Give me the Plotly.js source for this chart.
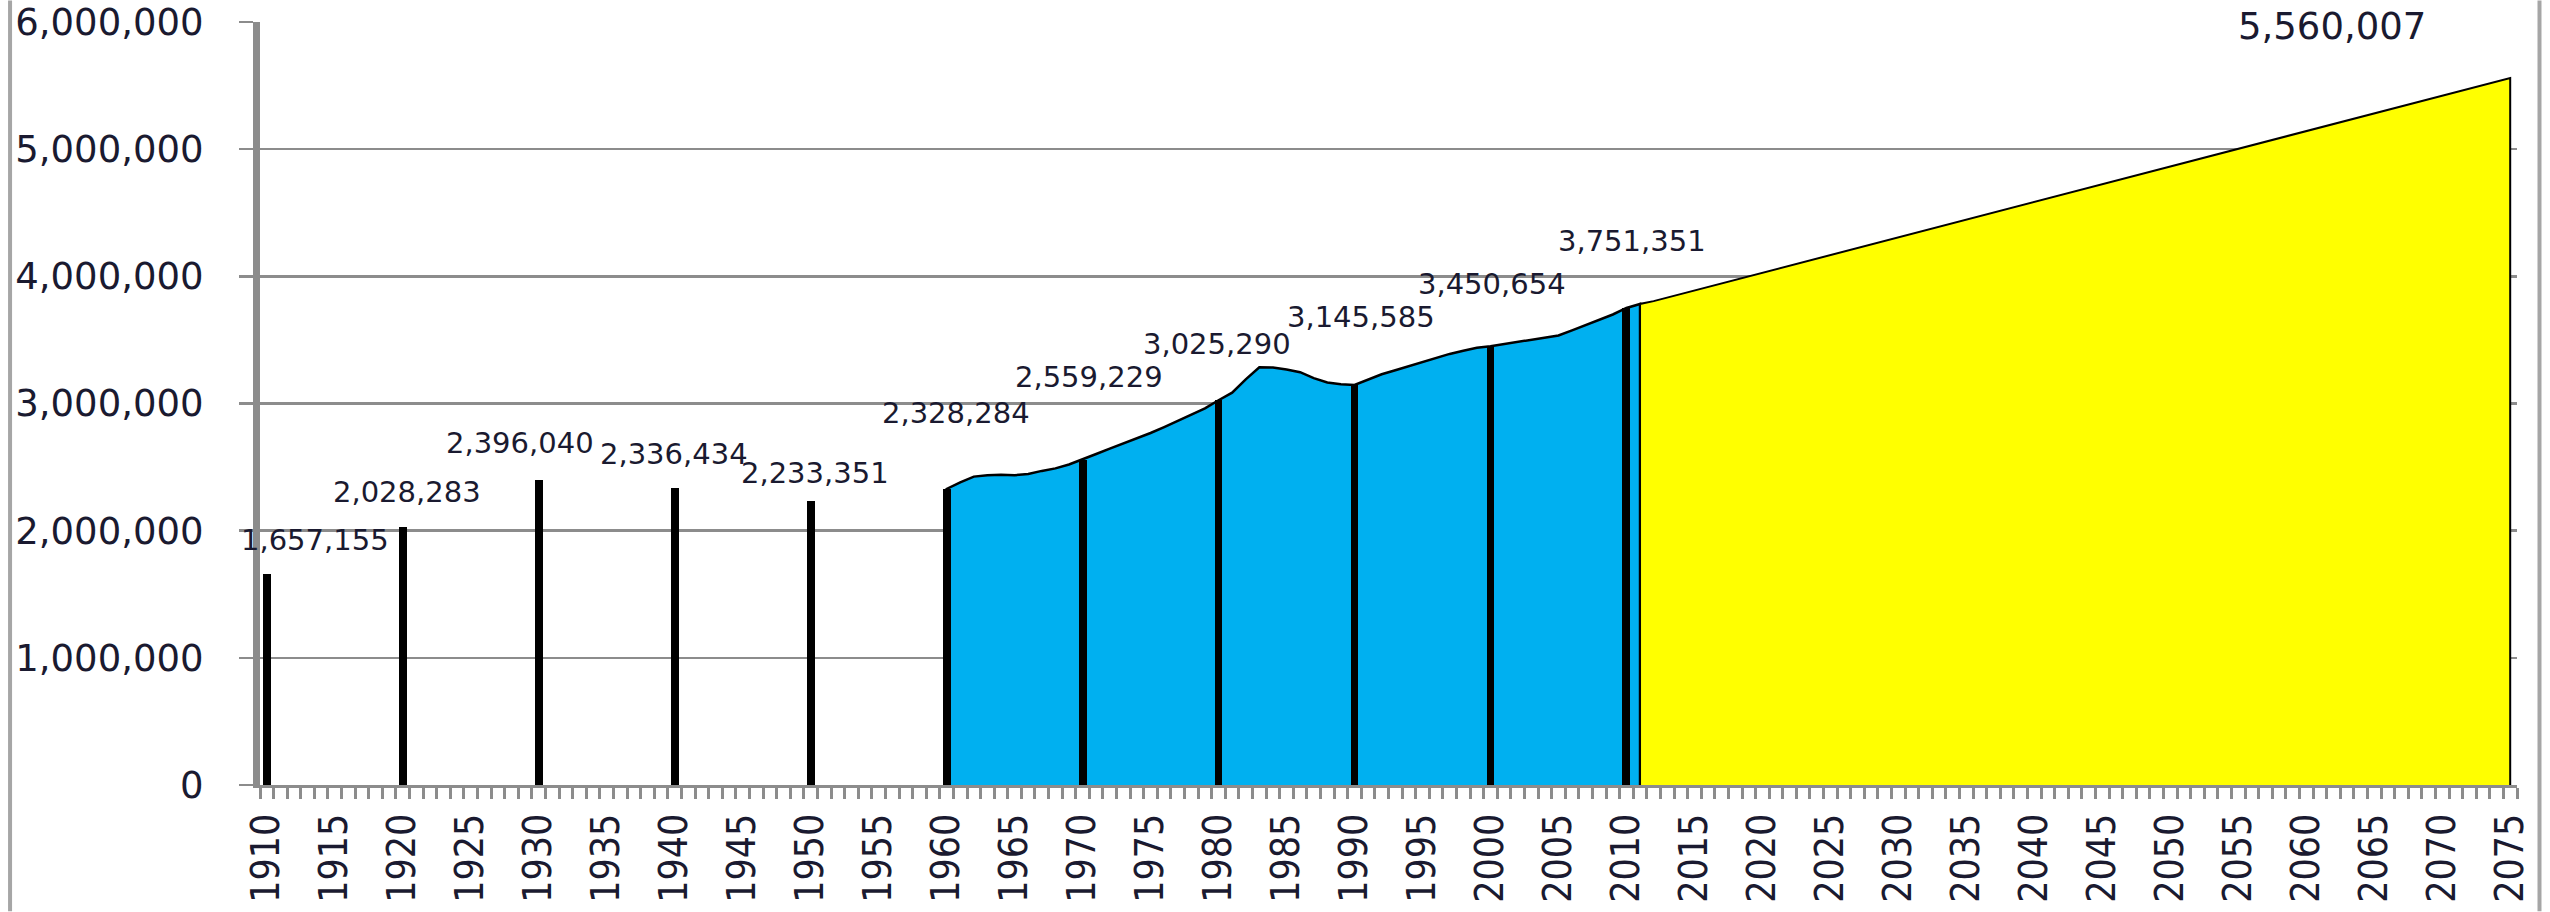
<!DOCTYPE html>
<html>
<head>
<meta charset="utf-8">
<script src="https://cdn.plot.ly/plotly-3.0.1.min.js"></script>
<style>
html,body{margin:0;padding:0;background:#ffffff;}
#chart{width:2550px;height:912px;}
</style>
</head>
<body>
<div id="chart"></div>
<script>
// Census years (black bars)
const censusYears = [1910, 1920, 1930, 1940, 1950, 1960, 1970, 1980, 1990, 2000, 2010];
const censusValues = [1657155, 2028283, 2396040, 2336434, 2233351, 2328284, 2559229, 3025290, 3145585, 3450654, 3751351];

// Annual estimates 1960-2011 (blue area)
const annualYears = [1960,1961,1962,1963,1964,1965,1966,1967,1968,1969,
                     1970,1971,1972,1973,1974,1975,1976,1977,1978,1979,
                     1980,1981,1982,1983,1984,1985,1986,1987,1988,1989,
                     1990,1991,1992,1993,1994,1995,1996,1997,1998,1999,
                     2000,2001,2002,2003,2004,2005,2006,2007,2008,2009,
                     2010,2011];
const annualValues = [2328284,2380000,2425000,2436000,2440000,2436000,2446000,2470000,2490000,2520000,
                      2559229,2603000,2645000,2685000,2725000,2768000,2815000,2862000,2912000,2962000,
                      3025290,3085000,3190000,3285000,3283000,3268000,3246000,3200000,3165000,3152000,
                      3145585,3185000,3230000,3262000,3295000,3328000,3360000,3390000,3415000,3438000,
                      3450654,3468000,3485000,3502000,3518000,3535000,3575000,3615000,3655000,3700000,
                      3751351,3783000];

// Projection (yellow area)
const projYears = [2011, 2012, 2075];
const projValues = [3783000, 3805000, 5560007];

// Value labels
const labelYears = [1910, 1920, 1930, 1940, 1950, 1960, 1970, 1980, 1990, 2000, 2010, 2075];
const labelValues = [1657155, 2028283, 2396040, 2336434, 2233351, 2328284, 2559229, 3025290, 3145585, 3450654, 3751351, 5560007];
const labelDx = [48, 4, -19, -1, 4, 9, 6, -2, 6, 2, 6, -178];
const labelDy = [34, 35, 37, 34, 28, 76, 83, 56, 68, 62, 67, 51];

const GRAY = '#8c8c8c';
const TXT = '#1a1a30';

function fillPoly(xs, ys) {
  return { x: xs.concat([xs[xs.length-1], xs[0]]), y: ys.concat([0, 0]) };
}
function outline(xs, ys) {
  return { x: [xs[0]].concat(xs, [xs[xs.length-1]]), y: [0].concat(ys, [0]) };
}

const bluePoly = fillPoly(annualYears, annualValues);
const blueLine = outline(annualYears, annualValues);
const yelPoly = fillPoly(projYears, projValues);
const yelLine = outline(projYears, projValues);

const traces = [
  { type:'scatter', mode:'lines', x: bluePoly.x, y: bluePoly.y, fill:'toself', fillcolor:'#00B0F0',
    line:{width:0, color:'rgba(0,0,0,0)'}, hoverinfo:'skip', showlegend:false },
  { type:'scatter', mode:'lines', x: blueLine.x, y: blueLine.y,
    line:{width:2.5, color:'#000000'}, hoverinfo:'skip', showlegend:false },
  { type:'scatter', mode:'lines', x: yelPoly.x, y: yelPoly.y, fill:'toself', fillcolor:'#FFFF00',
    line:{width:0, color:'rgba(0,0,0,0)'}, hoverinfo:'skip', showlegend:false },
  { type:'scatter', mode:'lines', x: yelLine.x, y: yelLine.y,
    line:{width:2, color:'#000000'}, hoverinfo:'skip', showlegend:false },
  { type:'bar', x: censusYears, y: censusValues, width: 0.58, xaxis:'x2', yaxis:'y2',
    marker:{color:'#000000', line:{width:0}}, showlegend:false }
];

const annotations = labelYears.map((yr, i) => ({
  x: yr, y: labelValues[i], xref:'x', yref:'y',
  text: labelValues[i].toLocaleString('en-US'),
  showarrow:false, xanchor:'center', yanchor:'middle',
  xshift: labelDx[i], yshift: labelDy[i],
  font:{family:'DejaVu Sans, Verdana, sans-serif', size: (yr === 2075 ? 37 : 29), color: TXT}
}));

const W = 2550, H = 912;
const L = 260, R = 32.5, T = 21.5, B = 126.5;
const pw = W - L - R, ph = H - T - B;

const shapes = [
  { type:'line', xref:'paper', yref:'paper', x0:(10-L)/pw, x1:(10-L)/pw, y0:-(B)/ph, y1:1+T/ph,
    line:{color:'#a6a6a6', width:4} },
  { type:'line', xref:'paper', yref:'paper', x0:(2540-L)/pw, x1:(2540-L)/pw, y0:-(B)/ph, y1:1+T/ph,
    line:{color:'#a6a6a6', width:4} }
];

const xr = [1909.5, 2075.5];
const yr = [0, 6000000];

const layout = {
  width: W, height: H,
  margin: {l:L, r:R, t:T, b:B, pad:0},
  paper_bgcolor:'#ffffff', plot_bgcolor:'#ffffff',
  showlegend:false,
  bargap:0,
  xaxis: {
    type:'linear', range: xr, fixedrange:true,
    tick0:1910, dtick:5, tickangle:-90,
    ticks:'', showgrid:false, zeroline:false,
    showline:true, linecolor:GRAY, linewidth:3,
    ticklabelstandoff: 10,
    tickfont:{family:'Liberation Sans Narrow, DejaVu Sans Condensed, Liberation Sans, sans-serif', size:39, color:TXT},
    minor:{tick0:1909.5, dtick:1, ticks:'outside', ticklen:11, tickwidth:3, tickcolor:GRAY, showgrid:false}
  },
  yaxis: {
    type:'linear', range: yr, fixedrange:true,
    dtick:1000000, tickformat:',d',
    ticks:'outside', ticklen:14, tickwidth:2.5, tickcolor:GRAY,
    showgrid:true, gridcolor:GRAY, gridwidth:2.5, zeroline:false,
    showline:true, linecolor:GRAY, linewidth:7,
    ticklabelstandoff: 28,
    tickfont:{family:'DejaVu Sans, Verdana, sans-serif', size:37, color:TXT}
  },
  xaxis2: { overlaying:'x', range: xr, visible:false, fixedrange:true },
  yaxis2: { overlaying:'y', range: yr, visible:false, fixedrange:true },
  annotations: annotations,
  shapes: shapes
};

Plotly.newPlot('chart', traces, layout, {displayModeBar:false, staticPlot:true});
</script>
</body>
</html>
